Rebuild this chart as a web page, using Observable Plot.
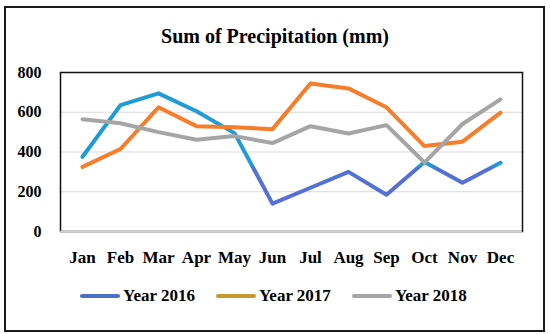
<!DOCTYPE html>
<html><head><meta charset="utf-8">
<script src="https://cdn.jsdelivr.net/npm/d3@7"></script>
<script src="https://cdn.jsdelivr.net/npm/@observablehq/plot@0.6"></script>
<style>
body{margin:0;background:#fff;}
#wrap{position:relative;width:550px;height:334px;overflow:hidden;font-family:"Liberation Serif","Times New Roman",serif;font-weight:bold;color:#000;background:#fff;}
#border{position:absolute;left:4px;top:6px;width:541px;height:326px;border:2.5px solid #1a1a1a;box-sizing:border-box;}
#title{position:absolute;left:0;width:550px;top:25px;text-align:center;font-size:20px;line-height:23px;}
#chart{position:absolute;left:0;top:50px;}
#legend{position:absolute;left:80px;top:286px;display:flex;gap:21px;font-size:17px;line-height:20px;}
.item{display:flex;align-items:center;gap:3px;}
.sw{width:40px;height:4px;border-radius:2px;}
</style></head>
<body>
<div id="wrap">
  <div id="border"></div>
  <div id="title">Sum of Precipitation (mm)</div>
  <div id="chart"></div>
  <div id="legend"></div>
</div>
<script>
const months = ["Jan","Feb","Mar","Apr","May","Jun","Jul","Aug","Sep","Oct","Nov","Dec"];
const y2016 = [376,636,695,605,495,140,220,300,185,350,245,346];
const y2017 = [325,415,625,530,525,515,745,720,625,430,452,598];
const y2018 = [565,545,500,462,480,445,530,493,535,347,541,665];
const seriesNames = ["Year 2016","Year 2017","Year 2018"];
const lineColors = ["url(#g2016)","#F67E2A","#A5A5A5"];
const legendColors = ["#4A70CC","#C49A2C","#A6A6A6"];
const yTicks = [0,200,400,600,800];

const seriesValues = [y2016, y2017, y2018];
const rows = seriesValues.map(vals => months.map((m, i) => ({month: m, value: vals[i]})));

const chart = Plot.plot({
  width: 550,
  height: 220,
  marginTop: 22,
  marginBottom: 39,
  marginLeft: 60,
  marginRight: 28,
  style: {fontFamily: "'Liberation Serif','Times New Roman',serif", fontWeight: "bold", fontSize: "16px", color: "#000", background: "transparent"},
  x: {type: "point", domain: months, padding: 0.5, label: null},
  y: {domain: [0, 800], ticks: yTicks, label: null},
  marks: [
    Plot.ruleY(yTicks.filter(v => v > 0 && v < 800), {stroke: "#d9d9d9", strokeWidth: 1}),
    Plot.frame({stroke: "#111", strokeWidth: 1.5}),
    Plot.ruleY([0], {stroke: "#d0d0d0", strokeWidth: 1.5}),
    Plot.axisY({ticks: yTicks, tickSize: 0, tickPadding: 19, fontSize: 16, label: null}),
    Plot.axisX({tickSize: 0, tickPadding: 19, fontSize: 17, label: null}),
    ...rows.map((r, k) => Plot.line(r, {x: "month", y: "value", stroke: lineColors[k], strokeWidth: 4, strokeLinejoin: "round", strokeLinecap: "round"}))
  ]
});

// gradient for the 2016 series (cyan above, blue-violet below)
const ys = chart.scale("y");
const yT = ys.apply(325);
const svg = d3.select(chart);
const defs = svg.insert("defs", ":first-child");
const g = defs.append("linearGradient").attr("id", "g2016").attr("gradientUnits", "userSpaceOnUse")
  .attr("x1", 0).attr("x2", 0).attr("y1", yT - 2).attr("y2", yT + 2);
g.append("stop").attr("offset", 0).attr("stop-color", "#1F9BD7");
g.append("stop").attr("offset", 1).attr("stop-color", "#5470D5");

document.getElementById("chart").appendChild(chart);

const legend = d3.select("#legend");
seriesNames.forEach((name, k) => {
  const it = legend.append("div").attr("class", "item");
  it.append("div").attr("class", "sw").style("background", legendColors[k]);
  it.append("span").text(name);
});
</script>
</body></html>
